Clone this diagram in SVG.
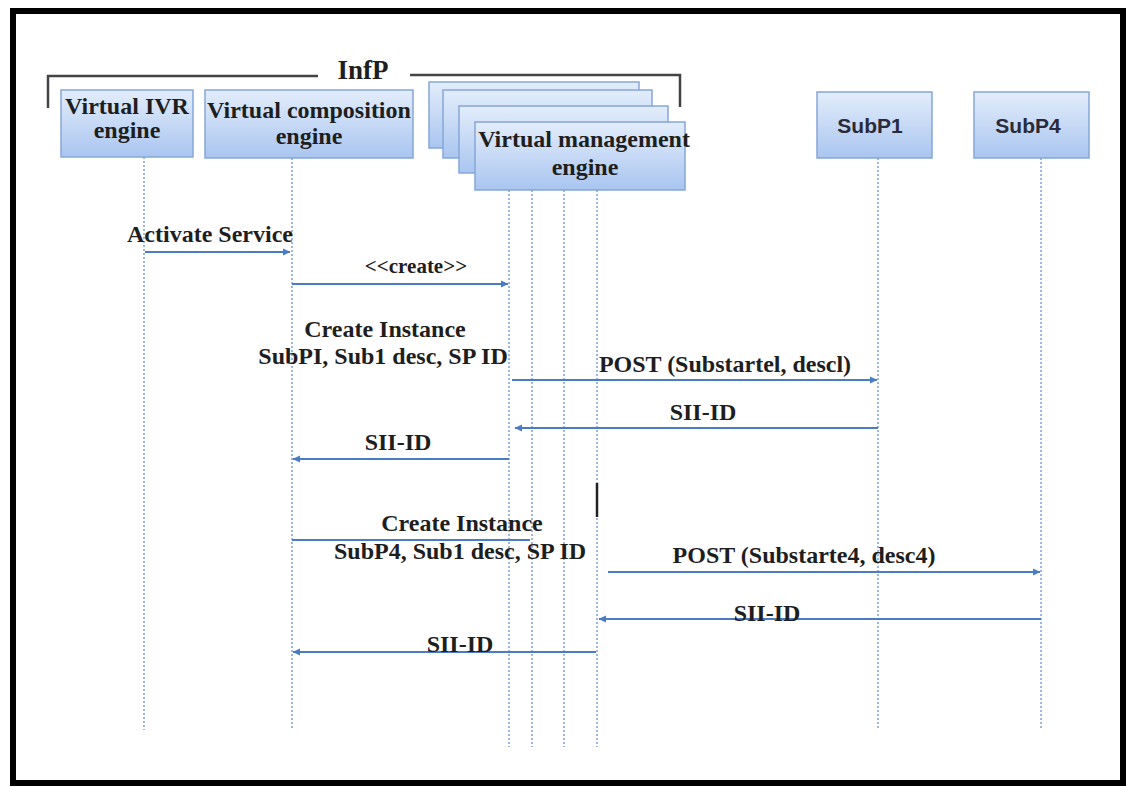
<svg xmlns="http://www.w3.org/2000/svg" width="1126" height="787" viewBox="0 0 1126 787">
<defs>
<linearGradient id="nodeFill" x1="0" y1="0" x2="0" y2="1">
<stop offset="0" stop-color="#e3edfb"/>
<stop offset="1" stop-color="#a9c5f0"/>
</linearGradient>
<marker id="arr" markerWidth="8" markerHeight="8" refX="7" refY="4" orient="auto" markerUnits="userSpaceOnUse">
<path d="M0,0.5 L7.5,4 L0,7.5 z" fill="#4a7cc4"/>
</marker>
</defs>
<style>
.node{fill:url(#nodeFill);stroke:#86a6d8;stroke-width:1.5}
.t{font-family:"Liberation Serif","Times New Roman",serif;font-weight:bold;font-size:24px;fill:#1e1e1e;text-anchor:middle}
.s{font-family:"Liberation Sans",Arial,sans-serif;font-weight:bold;font-size:21px;fill:#2a2a3a;text-anchor:middle}
.life{stroke:#5b86c9;stroke-width:1.2;stroke-dasharray:2 2;fill:none}
.msg{stroke:#4a7cc4;stroke-width:2;fill:none}
.brk{stroke:#444;stroke-width:2.5;fill:none}
</style>
<rect x="0" y="0" width="1126" height="787" fill="#ffffff"/>
<rect x="13" y="11" width="1110" height="772" fill="#ffffff" stroke="#000000" stroke-width="6"/>

<g id="infp-bracket">
<path class="brk" d="M48,108 L48,76 L318,76"/>
<path class="brk" d="M410,75 L680,75 L680,107"/>
<text class="t" x="363" y="79" style="font-size:27px">InfP</text>
</g>

<g id="lifelines">
<line class="life" x1="144" y1="157" x2="144" y2="730"/>
<line class="life" x1="292" y1="158" x2="292" y2="730"/>
<line class="life" x1="509" y1="190" x2="509" y2="747"/>
<line class="life" x1="532" y1="190" x2="532" y2="747"/>
<line class="life" x1="564" y1="190" x2="564" y2="747"/>
<line class="life" x1="597" y1="190" x2="597" y2="747"/>
<line class="life" x1="878" y1="158" x2="878" y2="730"/>
<line class="life" x1="1041" y1="158" x2="1041" y2="730"/>
</g>

<g id="node-ivr">
<rect class="node" x="61" y="90" width="132" height="67"/>
<text class="t" x="127" y="114">Virtual IVR</text>
<text class="t" x="127" y="138">engine</text>
</g>
<g id="node-composition">
<rect class="node" x="205" y="90" width="208" height="68"/>
<text class="t" x="309" y="118">Virtual composition</text>
<text class="t" x="309" y="144">engine</text>
</g>
<g id="node-management">
<rect class="node" x="429" y="82" width="210" height="66"/>
<rect class="node" x="443" y="90" width="209" height="68"/>
<rect class="node" x="459" y="106" width="209" height="67"/>
<rect class="node" x="475" y="122" width="210" height="68"/>
<text class="t" x="584" y="147">Virtual management</text>
<text class="t" x="585" y="175">engine</text>
</g>
<g id="node-subp1">
<rect class="node" x="817" y="92" width="115" height="66"/>
<text class="s" x="870" y="133">SubP1</text>
</g>
<g id="node-subp4">
<rect class="node" x="974" y="92" width="115" height="66"/>
<text class="s" x="1028" y="133">SubP4</text>
</g>

<g id="connectors">
<line class="msg" x1="145" y1="252" x2="290" y2="252" marker-end="url(#arr)"/>
<line class="msg" x1="292" y1="284" x2="508" y2="284" marker-end="url(#arr)"/>
<line class="msg" x1="512" y1="380" x2="877" y2="380" marker-end="url(#arr)"/>
<line class="msg" x1="878" y1="428" x2="515" y2="428" marker-end="url(#arr)"/>
<line class="msg" x1="509" y1="459" x2="293" y2="459" marker-end="url(#arr)"/>
<line class="msg" x1="292" y1="540" x2="530" y2="540"/>
<line class="msg" x1="608" y1="572" x2="1040" y2="572" marker-end="url(#arr)"/>
<line class="msg" x1="1041" y1="619" x2="599" y2="619" marker-end="url(#arr)"/>
<line class="msg" x1="596" y1="652" x2="293" y2="652" marker-end="url(#arr)"/>
<line x1="597" y1="483" x2="597" y2="517" stroke="#222" stroke-width="2.5"/>
</g>

<g id="labels">
<text class="t" x="210" y="242">Activate Service</text>
<text class="t" x="416" y="273" style="font-size:21px">&lt;&lt;create&gt;&gt;</text>
<text class="t" x="385" y="337">Create Instance</text>
<text class="t" x="383" y="364">SubPI, Sub1 desc, SP ID</text>
<text class="t" x="725" y="372">POST (Substartel, descl)</text>
<text class="t" x="703" y="420">SII-ID</text>
<text class="t" x="398" y="450">SII-ID</text>
<text class="t" x="462" y="531">Create Instance</text>
<text class="t" x="460" y="559">SubP4, Sub1 desc, SP ID</text>
<text class="t" x="804" y="563">POST (Substarte4, desc4)</text>
<text class="t" x="767" y="621">SII-ID</text>
<text class="t" x="460" y="652">SII-ID</text>
</g>
</svg>
